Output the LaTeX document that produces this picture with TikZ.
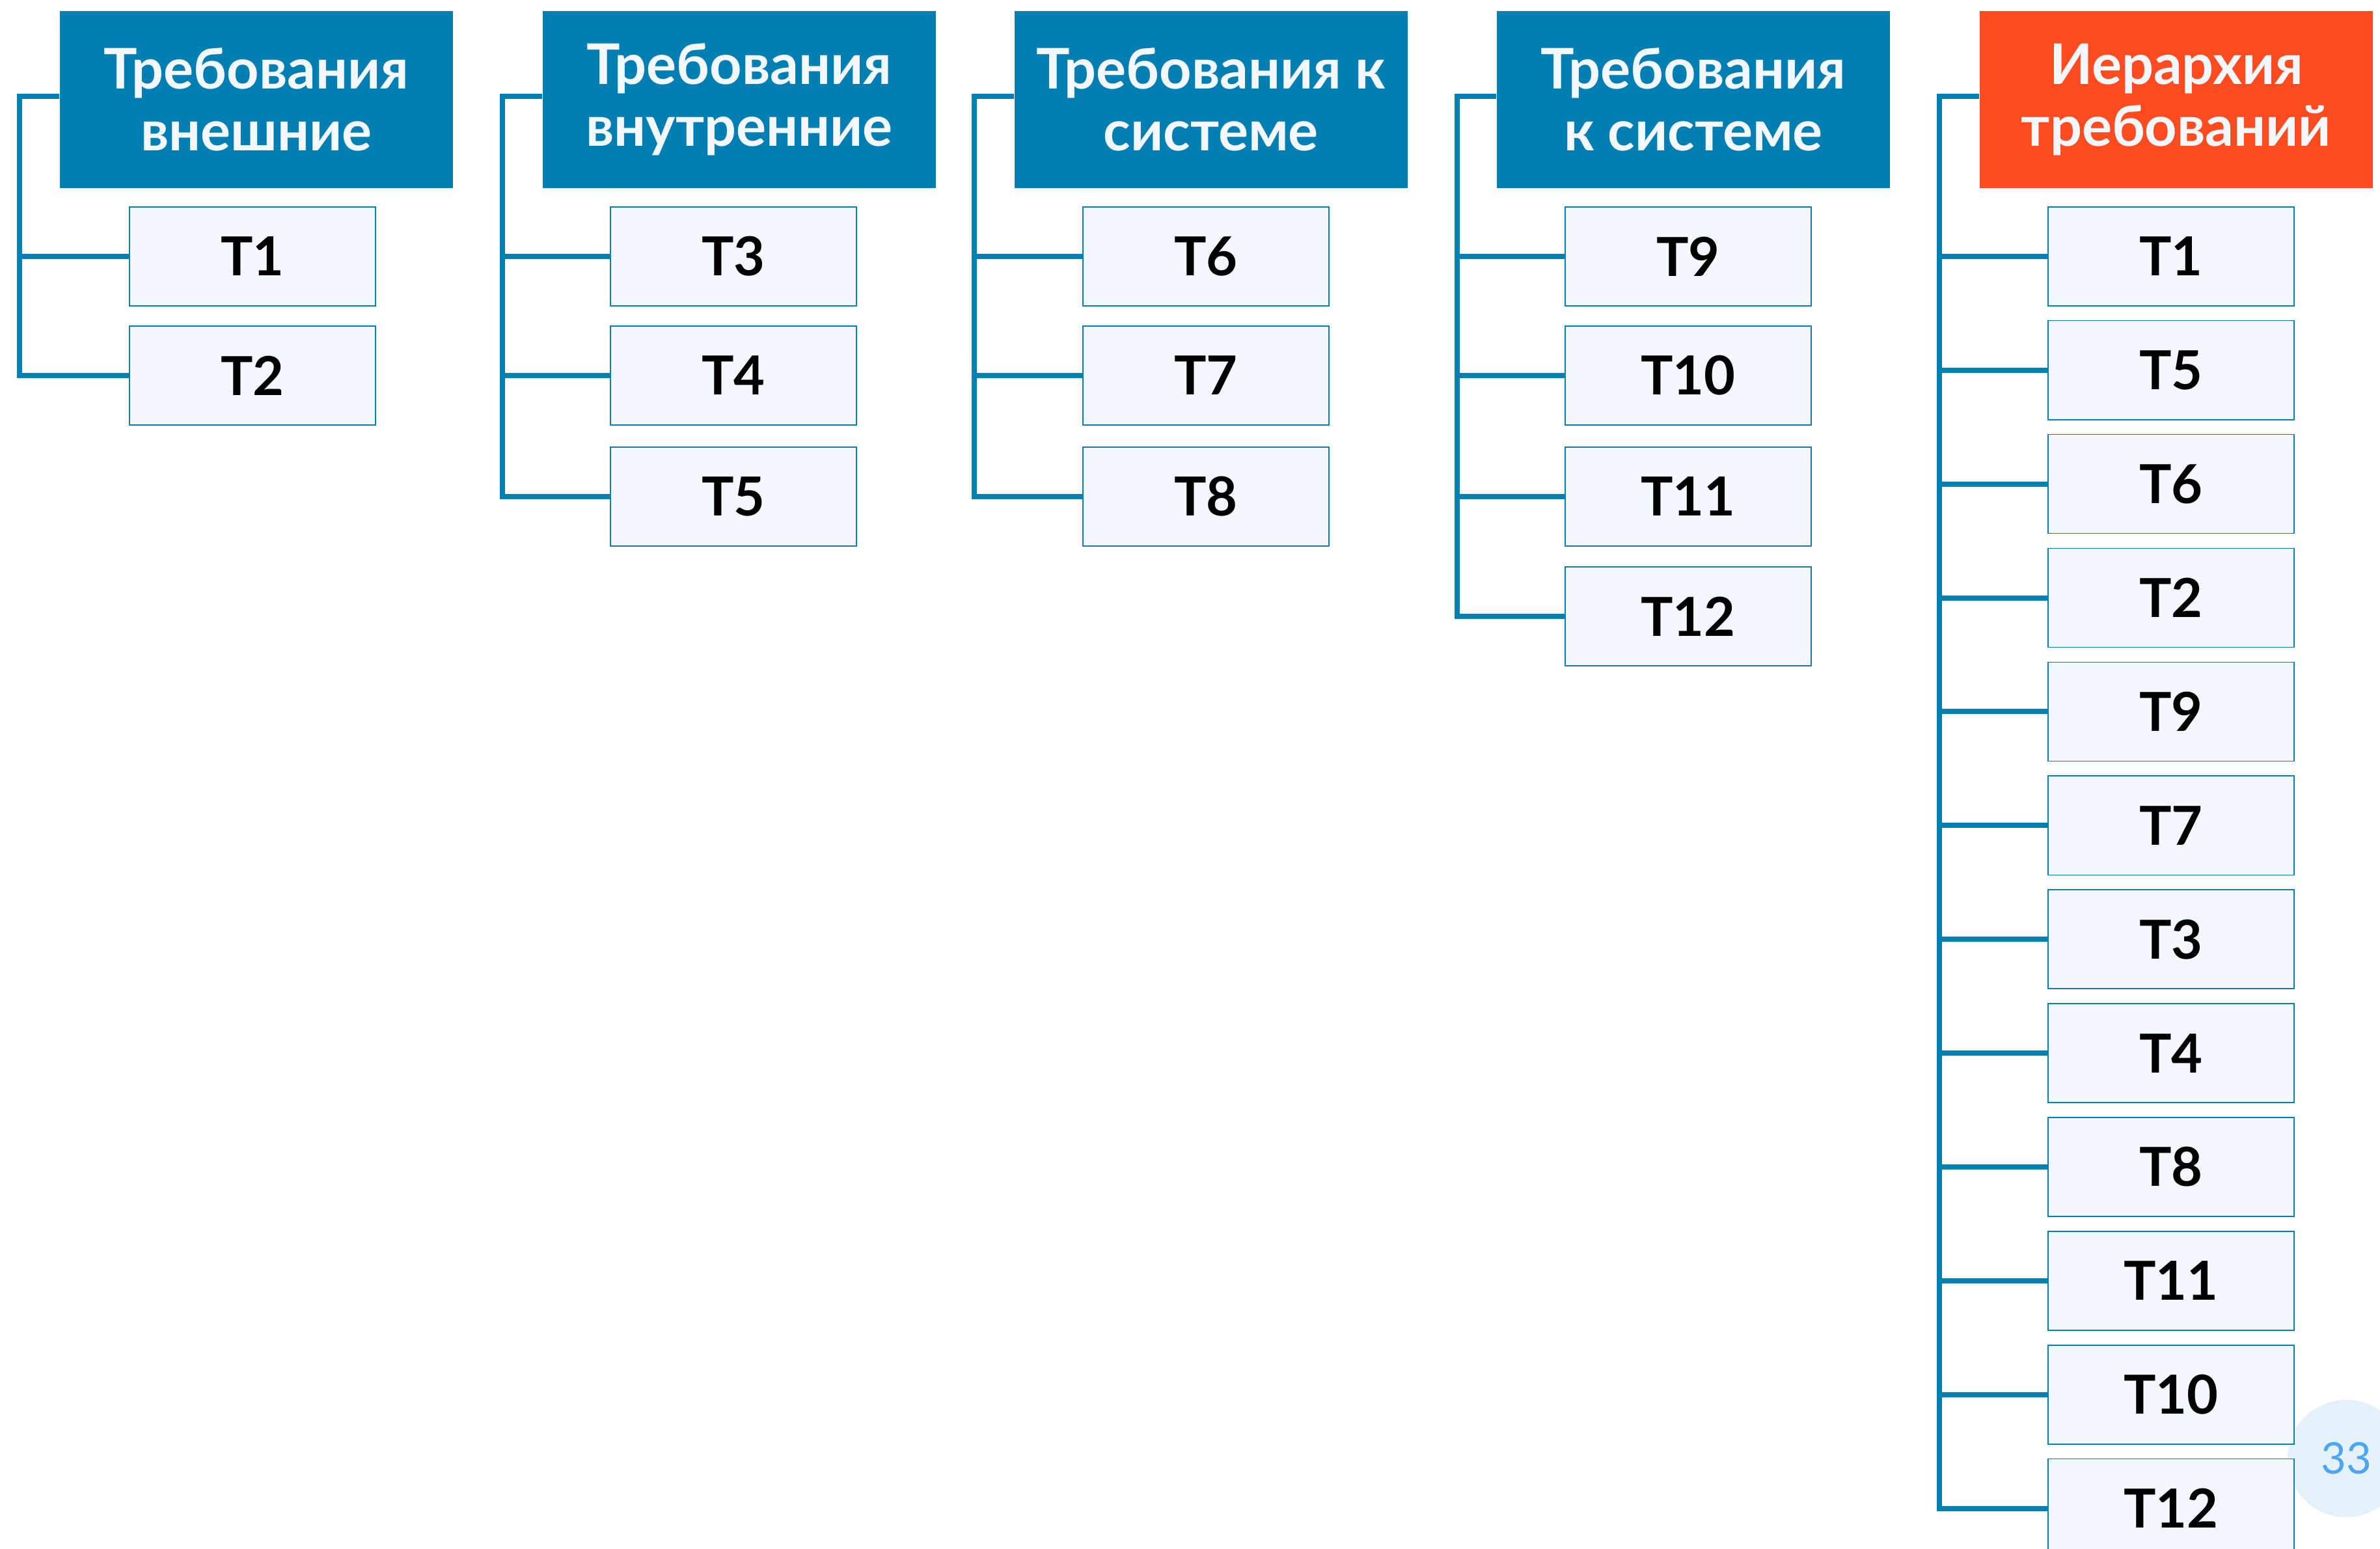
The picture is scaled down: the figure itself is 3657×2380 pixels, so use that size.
\documentclass[tikz,border=0pt]{standalone}
\usepackage{fontspec}
\setmainfont{Lato}
\definecolor{hblue}{RGB}{2,127,178}
\definecolor{horange}{RGB}{255,75,32}
\definecolor{bfill}{RGB}{243,248,254}
\definecolor{lblue}{RGB}{2,128,180}
\definecolor{hwhite}{RGB}{243,248,254}
\definecolor{pgfill}{RGB}{228,241,248}
\definecolor{pgtext}{RGB}{77,166,245}
\begin{document}
\begin{tikzpicture}[x=0.01cm,y=-0.01cm,
  hdr/.style={fill=hblue, minimum width=6.04cm, minimum height=2.72cm, inner sep=0pt, align=center, text=hwhite, font=\bfseries\fontsize{24.5}{27}\selectfont, anchor=north west},
  tbox/.style={draw=lblue, line width=0.45pt, fill=bfill, minimum width=3.78cm, minimum height=1.52cm, inner sep=0pt, font=\bfseries\fontsize{23.5}{26}\selectfont, anchor=north west},
  conn/.style={draw=lblue, line width=0.8mm}]
\fill[white] (0,0) rectangle (3657,2380);
\useasboundingbox (0,0) rectangle (3657,2380);
% headers
\node[hdr] (h1) at (91,16) {Требования\\внешние};
\node[hdr] (h2) at (833,16) {Требования\\внутренние};
\node[hdr] (h3) at (1558,16) {Требования к\\системе};
\node[hdr] (h4) at (2299,16) {Требования\\к системе};
\node[hdr, fill=horange] (h5) at (3041,16) {Иерархия\\требований};
% bracket corners
\coordinate (s1) at (30,148);
\coordinate (s2) at (772,148);
\coordinate (s3) at (1497,148);
\coordinate (s4) at (2239,148);
\coordinate (s5) at (2980,148);
% column 1
\node[tbox] (a1) at (198,317) {Т1};
\node[tbox] (a2) at (198,500) {Т2};
\draw[conn] (s1 -| h1.west) -- (s1) |- (a2.west);
\draw[conn] (a1.west) -- (s1 |- a1.west);
% column 2
\node[tbox] (b3) at (937,317) {Т3};
\node[tbox] (b4) at (937,500) {Т4};
\node[tbox] (b5) at (937,686) {Т5};
\draw[conn] (s2 -| h2.west) -- (s2) |- (b5.west);
\draw[conn] (b3.west) -- (s2 |- b3.west);
\draw[conn] (b4.west) -- (s2 |- b4.west);
% column 3
\node[tbox] (c6) at (1663,317) {Т6};
\node[tbox] (c7) at (1663,500) {Т7};
\node[tbox] (c8) at (1663,686) {Т8};
\draw[conn] (s3 -| h3.west) -- (s3) |- (c8.west);
\draw[conn] (c6.west) -- (s3 |- c6.west);
\draw[conn] (c7.west) -- (s3 |- c7.west);
% column 4
\node[tbox] (d9) at (2404,317) {Т9};
\node[tbox] (d10) at (2404,500) {Т10};
\node[tbox] (d11) at (2404,686) {Т11};
\node[tbox] (d12) at (2404,870) {Т12};
\draw[conn] (s4 -| h4.west) -- (s4) |- (d12.west);
\draw[conn] (d9.west) -- (s4 |- d9.west);
\draw[conn] (d10.west) -- (s4 |- d10.west);
\draw[conn] (d11.west) -- (s4 |- d11.west);
% page number
\node[circle, fill=pgfill, minimum size=1.8cm, inner sep=0pt, text=pgtext, font=\fontsize{19}{19}\selectfont] (pg) at (3605,2241) {33};
% column 5
\foreach \lbl [count=\i from 0] in {1,5,6,2,9,7,3,4,8,11,10,12} {
  \node[tbox] (e\i) at (3146,{317+\i*174.9}) {Т\lbl};
}
\draw[conn] (s5 -| h5.west) -- (s5) |- (e11.west);
\foreach \i in {0,...,10} {
  \draw[conn] (e\i.west) -- (s5 |- e\i.west);
}
\end{tikzpicture}
\end{document}
